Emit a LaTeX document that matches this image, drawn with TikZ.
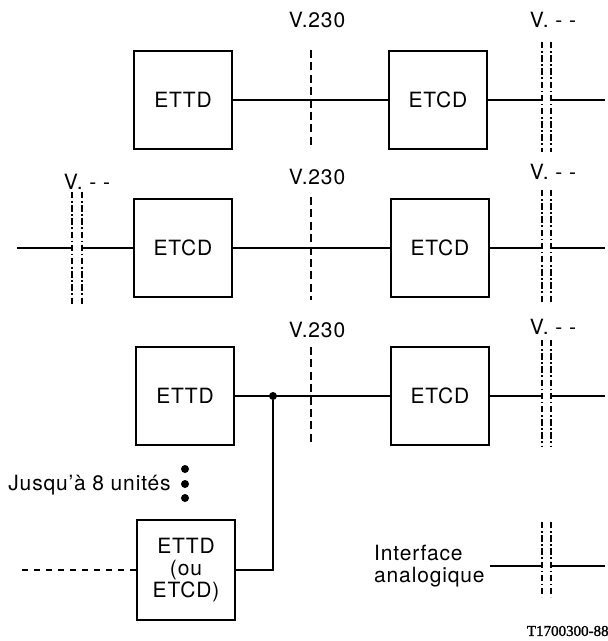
\documentclass[tikz,border=0pt]{standalone}
\usepackage{fontspec}
\setmainfont{TeX Gyre Heros}[LetterSpace=4]
\newfontfamily\refserif{Liberation Serif}[FakeBold=1.5]
\usetikzlibrary{positioning}

\begin{document}
\begin{tikzpicture}[
    x=0.5pt, y=-0.5pt,
    every node/.style={font=\fontsize{10.5}{10.8}\selectfont},
    unit/.style={rectangle, draw, line width=1pt, minimum width=49pt, minimum height=49pt, align=center, inner sep=0pt},
    wire/.style={line width=0.8pt},
    vline/.style={line width=1.1pt, dash pattern=on 4pt off 2.2pt},
    aline/.style={line width=1pt, dash pattern=on 3.2pt off 1.3pt on 0.8pt off 1.3pt},
    ilab/.style={inner sep=0pt},
    dot/.style={circle, fill, inner sep=0pt, minimum size=4pt}
]
\useasboundingbox (0,0) rectangle (607,641);

% Units
\node[unit] (ettdA) at (183,100) {ETTD};
\node[unit] (etcdA) at (438,100) {ETCD};
\node[unit] (etcdL) at (183,248) {ETCD};
\node[unit] (etcdB) at (440,248) {ETCD};
\node[unit] (ettdC) at (185,396) {ETTD};
\node[unit] (etcdC) at (440,396) {ETCD};
\node[unit, minimum height=50pt] (ettdD) at (186,570) {ETTD\\(ou\\ETCD)};

% Interface labels
\node[ilab] (v230a) at (317,20)  {V.230};
\node[ilab] (v230b) at (317,177) {V.230};
\node[ilab] (v230c) at (317,330) {V.230};
\node[ilab] (vxa) at (553,20)  {V. - -};
\node[ilab] (vxl) at (87,182)  {V. - -};
\node[ilab] (vxb) at (553,172) {V. - -};
\node[ilab] (vxc) at (553,327) {V. - -};
\node[ilab, anchor=east, align=left] (analog) at (485,566) {Interface\\analogique};
\node[ilab, anchor=west] (jusqu) at (8,485) {Jusqu'à 8 unités};
\node[ilab, anchor=east, font=\refserif\fontsize{7.5}{8}\selectfont] (ref) at (609,631) {T1700300-88};

% V.230 interfaces
\draw[vline] (311,50) -- (311,148);
\draw[vline] (311,197) -- (311,300);
\draw[vline] (311,347) -- (311,445);

% V.-- interfaces (double lines)
\draw[aline] (542,42) -- (542,152);   \draw[aline] (551,42) -- (551,152);
\draw[aline] (72,192) -- (72,305);    \draw[aline] (82,192) -- (82,305);
\draw[aline] (542,190) -- (542,302);  \draw[aline] (551,190) -- (551,302);
\draw[aline] (542,340) -- (542,447);  \draw[aline] (551,340) -- (551,447);
\draw[aline] (542,522) -- (542,597);  \draw[aline] (551,522) -- (551,597);

% Line ends
\coordinate (a1) at (542,100); \coordinate (a2) at (551,100); \coordinate (a3) at (605,100);
\coordinate (l0) at (17,248);  \coordinate (l1) at (72,248);  \coordinate (l2) at (82,248);
\coordinate (b1) at (542,248); \coordinate (b2) at (551,248); \coordinate (b3) at (605,248);
\coordinate (c1) at (542,396); \coordinate (c2) at (551,396); \coordinate (c3) at (605,396);
\coordinate (d0) at (490,566); \coordinate (d1) at (542,566); \coordinate (d2) at (551,566); \coordinate (d3) at (605,566);
\coordinate (e0) at (22,570);

% Row 1
\draw[wire] (ettdA) -- (etcdA);
\draw[wire] (etcdA) -- (a1);
\draw[wire] (a2) -- (a3);

% Row 2
\draw[wire] (l0) -- (l1);
\draw[wire] (l2) -- (etcdL);
\draw[wire] (etcdL) -- (etcdB);
\draw[wire] (etcdB) -- (b1);
\draw[wire] (b2) -- (b3);

% Row 3 with bus
\node[dot] (junc) at (273,396) {};
\draw[wire] (ettdC) -- (etcdC);
\draw[wire] (etcdC) -- (c1);
\draw[wire] (c2) -- (c3);
\draw[wire] (junc) |- (ettdD);
\draw[wire, dashed] (e0) -- (ettdD);

% Analog interface
\draw[wire] (d0) -- (d1);
\draw[wire] (d2) -- (d3);

% Up to 8 units
\node[dot] (u1) at (185,469) {};
\node[dot] (u2) at (185,484) {};
\node[dot] (u3) at (185,498) {};
\end{tikzpicture}
\end{document}
